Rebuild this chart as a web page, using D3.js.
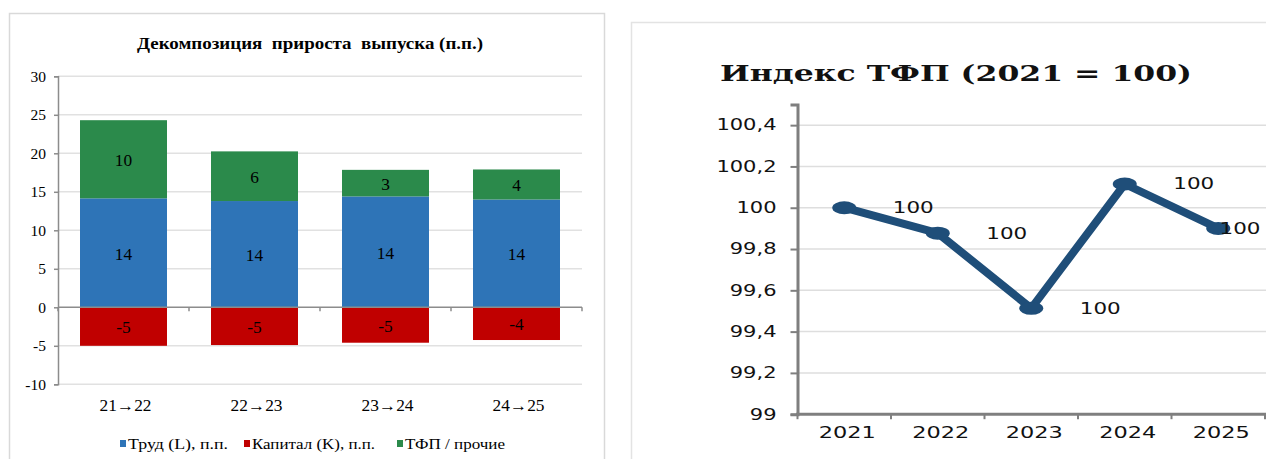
<!DOCTYPE html>
<html>
<head>
<meta charset="utf-8" />
<script src="https://cdn.jsdelivr.net/npm/d3@7"></script>
<style>
    body { margin: 0; background: #fff; }
    .serif { font-family: "Liberation Serif", "Times New Roman", serif; }
    .sans { font-family: "DejaVu Sans", Verdana, sans-serif; }
    .wserif { font-family: "DejaVu Serif", Georgia, serif; }
    text { white-space: pre; }
</style>
</head>
<body>
<script>
// --- left chart: output growth decomposition (p.p.) ---
const periods = ["21→22", "22→23", "23→24", "24→25"];
const labour = [14.15, 13.8, 14.4, 14.0];
const capital = [-5.0, -4.9, -4.6, -4.25];
const tfp = [10.15, 6.45, 3.45, 3.9];
const seriesNames = ["Труд (L), п.п.", "Капитал (K), п.п.", "ТФП / прочие"];
const seriesColors = ["#2e74b7", "#c00000", "#2b8a4b"];
const barTicks = [-10, -5, 0, 5, 10, 15, 20, 25, 30];

// --- right chart: TFP index (2021 = 100) ---
const years = ["2021", "2022", "2023", "2024", "2025"];
const tfpIndex = [100, 99.877, 99.513, 100.115, 99.9];
const indexTicks = [99, 99.2, 99.4, 99.6, 99.8, 100, 100.2, 100.4];

const width = 1266, height = 459;

const svg = d3.select("body").append("svg")
    .attr("width", width)
    .attr("height", height);

// stretch a text horizontally (the source picture is widened)
function stretch(sel, k) {
    sel.each(function () {
        const w = this.getComputedTextLength();
        d3.select(this).attr("textLength", w * k).attr("lengthAdjust", "spacingAndGlyphs");
    });
}

// ================= LEFT CHART =================
svg.append("rect")
    .attr("x", 9.5).attr("y", 13.5)
    .attr("width", 595).attr("height", 470)
    .attr("fill", "none").attr("stroke", "#d9d9d9").attr("stroke-width", 1.5);

svg.append("text")
    .attr("class", "serif")
    .attr("x", 310).attr("y", 49)
    .attr("text-anchor", "middle")
    .attr("fill", "#000")
    .style("font-size", "16px").style("font-weight", "bold")
    .attr("textLength", 346).attr("lengthAdjust", "spacingAndGlyphs")
    .text("Декомпозиция  прироста  выпуска (п.п.)");

const x1 = d3.scaleBand().domain(periods).range([58, 582])
    .paddingInner(0.336).paddingOuter(0.168);
const y1 = d3.scaleLinear().domain([-10, 30]).range([384.3, 76.3]);

// gridlines
svg.append("g").selectAll("line")
    .data(barTicks.filter(d => d !== 0))
    .enter().append("line")
    .attr("x1", 58).attr("x2", 582)
    .attr("y1", d => y1(d)).attr("y2", d => y1(d))
    .attr("stroke", "#e1e1e1").attr("stroke-width", 1.5);

const rows = periods.map((p, i) => ({ period: p, L: labour[i], K: capital[i], T: tfp[i] }));
const stack = d3.stack().keys(["L", "K", "T"]).offset(d3.stackOffsetDiverging)(rows);

const layer = svg.append("g").selectAll("g")
    .data(stack)
    .enter().append("g")
    .attr("fill", (d, i) => seriesColors[i]);

layer.selectAll("rect")
    .data(d => d)
    .enter().append("rect")
    .attr("x", d => x1(d.data.period))
    .attr("width", x1.bandwidth())
    .attr("y", d => y1(Math.max(d[0], d[1])))
    .attr("height", d => Math.abs(y1(d[0]) - y1(d[1])));

layer.selectAll("text")
    .data(d => d)
    .enter().append("text")
    .attr("class", "serif")
    .attr("x", d => x1(d.data.period) + x1.bandwidth() / 2)
    .attr("y", d => y1((d[0] + d[1]) / 2) + 1)
    .attr("dy", "0.35em")
    .attr("text-anchor", "middle")
    .attr("fill", "#000")
    .style("font-size", "16.5px")
    .text(d => String(Math.round(d[0] < 0 ? d[0] - d[1] : d[1] - d[0])))
    .call(stretch, 1.05);

// y axis
const yAxis1 = svg.append("g")
    .attr("transform", "translate(58,0)")
    .call(d3.axisLeft(y1).tickValues(barTicks).tickSize(4).tickPadding(8).tickFormat(d => String(d)));
yAxis1.select(".domain").attr("stroke", "#8c8c8c").attr("stroke-width", 1.5);
yAxis1.selectAll(".tick line").attr("stroke", "#8c8c8c").attr("stroke-width", 1.5);
yAxis1.selectAll("text").attr("class", "serif").style("font-size", "15.5px").attr("fill", "#000");

// x axis on zero line
svg.append("line")
    .attr("x1", 58).attr("x2", 582)
    .attr("y1", y1(0)).attr("y2", y1(0))
    .attr("stroke", "#8c8c8c").attr("stroke-width", 1.5);
svg.append("g").selectAll("line")
    .data(d3.range(periods.length + 1))
    .enter().append("line")
    .attr("x1", i => 58 + i * x1.step()).attr("x2", i => 58 + i * x1.step())
    .attr("y1", y1(0)).attr("y2", y1(0) + 4)
    .attr("stroke", "#8c8c8c").attr("stroke-width", 1.5);

svg.append("g").selectAll("text")
    .data(periods)
    .enter().append("text")
    .attr("class", "serif")
    .attr("x", d => x1(d) + x1.bandwidth() / 2 + 2)
    .attr("y", 411)
    .attr("text-anchor", "middle")
    .attr("fill", "#000")
    .style("font-size", "16.5px")
    .attr("textLength", 52).attr("lengthAdjust", "spacingAndGlyphs")
    .text(d => d);

// legend
const legX = [120, 244, 397];
const legW = [100, 123, 100];
const leg = svg.append("g").selectAll("g")
    .data(seriesNames)
    .enter().append("g")
    .attr("transform", (d, i) => `translate(${legX[i]},440)`);
leg.append("rect").attr("width", 6).attr("height", 7).attr("fill", (d, i) => seriesColors[i]);
leg.append("text")
    .attr("class", "serif")
    .attr("x", 8).attr("y", 9)
    .attr("fill", "#000")
    .style("font-size", "15px")
    .attr("textLength", (d, i) => legW[i]).attr("lengthAdjust", "spacingAndGlyphs")
    .text(d => d);

// ================= RIGHT CHART =================
svg.append("rect")
    .attr("x", 631.5).attr("y", 22.5)
    .attr("width", 700).attr("height", 470)
    .attr("fill", "none").attr("stroke", "#e3e3e3").attr("stroke-width", 1.5);

svg.append("text")
    .attr("class", "wserif")
    .attr("x", 956).attr("y", 81)
    .attr("text-anchor", "middle")
    .style("font-size", "23px").style("font-weight", "bold")
    .attr("fill", "#111")
    .attr("textLength", 472).attr("lengthAdjust", "spacingAndGlyphs")
    .text("Индекс ТФП (2021 = 100)");

const x2 = d3.scalePoint().domain(years).range([797.5, 1265]).padding(0.5);
const y2 = d3.scaleLinear().domain([99, 100.5]).range([414.2, 104.5]);
const fmt = d => String(+d.toFixed(1)).replace(".", ",");

svg.append("g").selectAll("line")
    .data(indexTicks.filter(d => d !== 99))
    .enter().append("line")
    .attr("x1", 797).attr("x2", 1266)
    .attr("y1", d => y2(d)).attr("y2", d => y2(d))
    .attr("stroke", "#dedede").attr("stroke-width", 1.5);

const yAxis2 = svg.append("g")
    .attr("transform", "translate(797.5,0)")
    .call(d3.axisLeft(y2).tickValues(indexTicks).tickSize(7).tickPadding(14).tickFormat(fmt));
yAxis2.select(".domain").attr("stroke", "#7f7f7f").attr("stroke-width", 3);
yAxis2.selectAll(".tick line").attr("stroke", "#7f7f7f").attr("stroke-width", 2);
yAxis2.selectAll("text").attr("class", "sans").style("font-size", "15px").attr("fill", "#111")
    .call(stretch, 1.4);

svg.append("line")
    .attr("x1", 796).attr("x2", 1266)
    .attr("y1", y2(99)).attr("y2", y2(99))
    .attr("stroke", "#7f7f7f").attr("stroke-width", 3);
svg.append("g").selectAll("line")
    .data(d3.range(years.length + 1))
    .enter().append("line")
    .attr("x1", i => 797.5 + i * x2.step()).attr("x2", i => 797.5 + i * x2.step())
    .attr("y1", y2(99)).attr("y2", y2(99) + 5)
    .attr("stroke", "#7f7f7f").attr("stroke-width", 2);

svg.append("g").selectAll("text")
    .data(years)
    .enter().append("text")
    .attr("class", "sans")
    .attr("x", d => x2(d) + 3)
    .attr("y", 438)
    .attr("text-anchor", "middle")
    .attr("fill", "#111")
    .style("font-size", "16px")
    .text(d => d)
    .call(stretch, 1.4);

const pts = years.map((yr, i) => ({ year: yr, v: tfpIndex[i] }));

svg.append("path")
    .datum(pts)
    .attr("fill", "none")
    .attr("stroke", "#1f4e79")
    .attr("stroke-width", 8)
    .attr("stroke-linejoin", "round")
    .attr("d", d3.line().x(d => x2(d.year)).y(d => y2(d.v)));

svg.append("g").selectAll("ellipse")
    .data(pts)
    .enter().append("ellipse")
    .attr("cx", d => x2(d.year))
    .attr("cy", d => y2(d.v))
    .attr("rx", 12).attr("ry", 6.5)
    .attr("fill", "#1f4e79");

svg.append("g").selectAll("text")
    .data(pts)
    .enter().append("text")
    .attr("class", "sans")
    .attr("x", d => Math.min(x2(d.year) + 69, width - 26))
    .attr("y", d => y2(d.v))
    .attr("dy", "0.36em")
    .attr("text-anchor", "middle")
    .attr("fill", "#111")
    .style("font-size", "15px")
    .text(d => d.v.toFixed(0))
    .call(stretch, 1.43);
</script>
</body>
</html>
